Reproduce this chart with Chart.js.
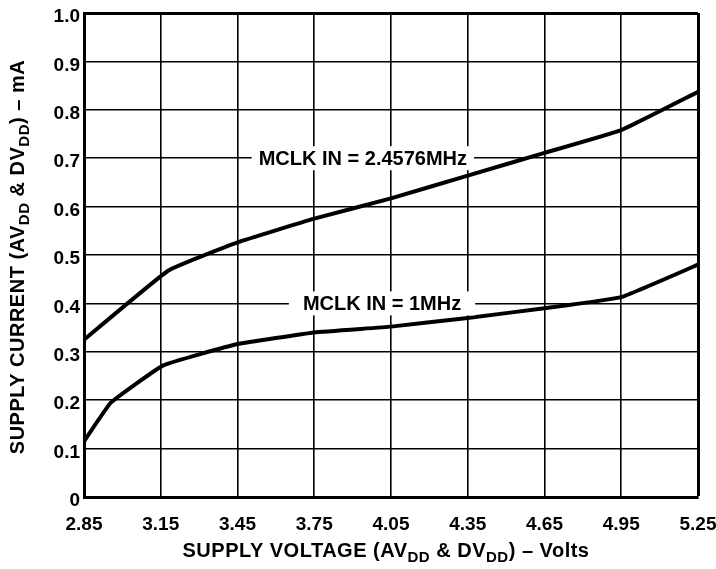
<!DOCTYPE html>
<html>
<head>
<meta charset="utf-8">
<script src="https://cdn.jsdelivr.net/npm/chart.js@4"></script>
<style>
  html, body { margin: 0; padding: 0; background: #fff; }
  #wrap { width: 716px; height: 569px; }
</style>
</head>
<body>
<div id="wrap"><canvas id="supply-chart" width="716" height="569"></canvas></div>
<script>
// supply voltage (V) vs supply current (mA)
const volt24576 = [2.85, 3.18, 3.45, 3.75, 4.05, 4.35, 4.65, 4.95, 5.25];
const curr24576 = [0.325, 0.468, 0.526, 0.575, 0.617, 0.664, 0.711, 0.758, 0.837];

const volt1M = [2.85, 2.955, 3.16, 3.45, 3.75, 4.05, 4.35, 4.65, 4.95, 5.25];
const curr1M = [0.115, 0.195, 0.272, 0.316, 0.34, 0.352, 0.37, 0.39, 0.413, 0.48];

const xTicks = [2.85, 3.15, 3.45, 3.75, 4.05, 4.35, 4.65, 4.95, 5.25];
const yTicks = [0, 0.1, 0.2, 0.3, 0.4, 0.5, 0.6, 0.7, 0.8, 0.9, 1.0];

const curveLabels = ['MCLK IN = 2.4576MHz', 'MCLK IN = 1MHz'];
const labelAnchorX = [3.94, 4.015];
const labelAnchorY = [0.7, 0.4];

const FONT = '"Liberation Sans", Arial, sans-serif';

function toPoints(xs, ys) {
    return xs.map((x, i) => ({ x: x, y: ys[i] }));
}

// text with subscript runs: [text, isSub]
function drawSubText(ctx, parts, cx, cy, size) {
    const big = 'bold ' + size + 'px ' + FONT;
    const small = 'bold ' + Math.round(size * 0.75) + 'px ' + FONT;
    let total = 0;
    parts.forEach(p => {
        ctx.font = p[1] ? small : big;
        total += ctx.measureText(p[0]).width;
    });
    let x = cx - total / 2;
    ctx.textBaseline = 'middle';
    ctx.textAlign = 'left';
    parts.forEach(p => {
        ctx.font = p[1] ? small : big;
        ctx.fillText(p[0], x, p[1] ? cy + size * 0.32 : cy);
        x += ctx.measureText(p[0]).width;
    });
}

const axisTitles = {
    id: 'axisTitles',
    afterDraw(chart) {
        const ctx = chart.ctx;
        ctx.save();
        ctx.fillStyle = '#000';
        ctx.letterSpacing = '0.5px';
        drawSubText(ctx, [['SUPPLY VOLTAGE (AV', false], ['DD', true], [' & DV', false], ['DD', true], [') \u2013 Volts', false]], 386, 551, 20);
        ctx.translate(18, 257);
        ctx.rotate(-Math.PI / 2);
        drawSubText(ctx, [['SUPPLY CURRENT (AV', false], ['DD', true], [' & DV', false], ['DD', true], [') \u2013 mA', false]], 0, 0, 20);
        ctx.restore();
    }
};

const curveTags = {
    id: 'curveTags',
    afterDatasetsDraw(chart) {
        const ctx = chart.ctx;
        const xs = chart.scales.x, ys = chart.scales.y;
        ctx.save();
        ctx.font = 'bold 20px ' + FONT;
        ctx.textAlign = 'center';
        ctx.textBaseline = 'middle';
        curveLabels.forEach((txt, i) => {
            const px = xs.getPixelForValue(labelAnchorX[i]);
            const py = ys.getPixelForValue(labelAnchorY[i]);
            const w = ctx.measureText(txt).width;
            const pad = i === 0 ? 7 : 14;
            ctx.fillStyle = '#fff';
            ctx.fillRect(px - w / 2 - pad, py - 12, w + pad * 2, 24);
            ctx.fillStyle = '#000';
            ctx.fillText(txt, px, py + 1);
        });
        ctx.restore();
    }
};

const ctx = document.getElementById('supply-chart').getContext('2d');

const supplyChart = new Chart(ctx, {
    type: 'line',
    data: {
        datasets: [{
            label: 'MCLK IN = 2.4576MHz',
            data: toPoints(volt24576, curr24576),
            borderColor: '#000',
            borderWidth: 4,
            pointRadius: 0,
            tension: 0.1,
            fill: false
        },
        {
            label: 'MCLK IN = 1MHz',
            data: toPoints(volt1M, curr1M),
            borderColor: '#000',
            borderWidth: 4,
            pointRadius: 0,
            tension: 0.1,
            fill: false
        }]
    },
    options: {
        responsive: false,
        animation: false,
        layout: { padding: { top: 13, right: 18, left: 0, bottom: 0 } },
        plugins: {
            legend: { display: false },
            tooltip: { enabled: false }
        },
        scales: {
            x: {
                type: 'linear',
                min: 2.85,
                max: 5.25,
                afterBuildTicks: s => { s.ticks = xTicks.map(v => ({ value: v })); },
                afterFit: s => { s.height = 72; s.paddingLeft = 0; s.paddingRight = 0; },
                grid: {
                    color: '#000',
                    lineWidth: c => (c.tick && c.tick.value === 5.25 ? 3 : 1.6),
                    drawTicks: false
                },
                border: { color: '#000', width: 3 },
                ticks: {
                    color: '#000',
                    padding: 16,
                    maxRotation: 0,
                    autoSkip: false,
                    font: { family: FONT, size: 19, weight: 'bold' },
                    callback: v => v.toFixed(2)
                }
            },
            y: {
                min: 0,
                max: 1.0,
                afterBuildTicks: s => { s.ticks = yTicks.map(v => ({ value: v })); },
                afterFit: s => { s.width = 84; s.paddingTop = 0; s.paddingBottom = 0; },
                grid: {
                    color: '#000',
                    lineWidth: c => (c.tick && c.tick.value === 1.0 ? 3 : 1.6),
                    drawTicks: false
                },
                border: { color: '#000', width: 3 },
                ticks: {
                    color: '#000',
                    padding: 4,
                    labelOffset: 4,
                    autoSkip: false,
                    font: { family: FONT, size: 19, weight: 'bold' },
                    callback: v => (v === 0 ? '0' : v.toFixed(1))
                }
            }
        }
    },
    plugins: [curveTags, axisTitles]
});
</script>
</body>
</html>
